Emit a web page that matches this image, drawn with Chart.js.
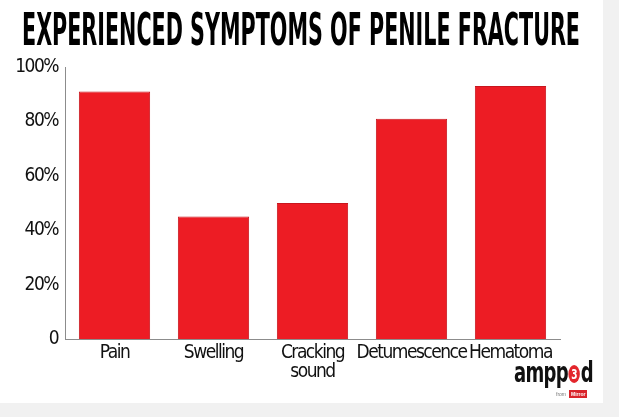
<!DOCTYPE html>
<html>
<head>
<meta charset="utf-8">
<script src="https://cdn.jsdelivr.net/npm/chart.js@4/dist/chart.umd.min.js"></script>
<style>
    body { margin: 0; background: #f1f1f1; width: 619px; height: 417px; overflow: hidden; }
    .card { position: absolute; left: 0; top: 0; width: 603px; height: 403px; background: #fff; }
    .title {
        position: absolute; left: 22px; top: 6px; white-space: nowrap; transform-origin: left top;
        font-family: "DejaVu Sans", sans-serif; font-stretch: condensed;
        font-weight: bold; font-size: 44px; line-height: 48px; color: #000;
    }
    .logo {
        position: absolute; left: 514px; top: 358px; white-space: nowrap; transform-origin: left top;
        font-family: "DejaVu Sans", sans-serif; font-stretch: condensed; font-weight: bold;
        font-size: 28px; line-height: 30px; letter-spacing: -1px; color: #111;
    }
    .logo .three {
        display: inline-block; color: #fff; background: #e3262c; border-radius: 50%;
        width: 16px; height: 18px; font-size: 14px; line-height: 18px; text-align: center;
        vertical-align: 3px; letter-spacing: 0; margin: 0 1px;
    }
    .mirror {
        position: absolute; left: 556px; top: 391px; font-family: "Liberation Sans", sans-serif;
        font-size: 5px; color: #777; white-space: nowrap;
    }
    .mirror b { background: #d9242b; color: #fff; padding: 1px 2px; margin-left: 3px; font-size: 5px; }
    canvas { position: absolute; left: 0; top: 0; }
</style>
</head>
<body>
<div class="card">
    <canvas id="chart1" width="603" height="403"></canvas>
    <div class="title" id="title">EXPERIENCED SYMPTOMS OF PENILE FRACTURE</div>
    <div class="logo" id="logo">ampp<span class="three">3</span>d</div>
    <div class="mirror">from<b>Mirror</b></div>
</div>
<script>
// dados do gráfico
const categories = ['Pain', 'Swelling', ['Cracking', 'sound'], 'Detumescence', 'Hematoma'];
const percentages = [91, 45, 50, 81, 93];
const yTicks = [0, 20, 40, 60, 80, 100];

// ajusta larguras do título e do logo
function fitWidth(id, target) {
    const el = document.getElementById(id);
    const w = el.getBoundingClientRect().width;
    el.style.transform = 'scaleX(' + (target / w) + ')';
}
fitWidth('title', 558);
fitWidth('logo', 79);

// "normal condensed" entra na string da fonte do canvas (font-stretch)
const labelFont = { family: '"DejaVu Sans", sans-serif', size: 19, weight: 'normal condensed', lineHeight: 1.0 };

// aperta o espaçamento das letras dos rótulos
const tightText = {
    id: 'tightText',
    beforeDraw: chart => { chart.ctx.letterSpacing = '-1.5px'; }
};

const ctx1 = document.getElementById('chart1').getContext('2d');
const chart1 = new Chart(ctx1, {
    type: 'bar',
    data: {
        labels: categories,
        datasets: [{
            data: percentages,
            backgroundColor: '#ed1c24',
            borderColor: '#c8161e',
            borderWidth: 1,
            barPercentage: 0.9,
            categoryPercentage: 0.8
        }]
    },
    plugins: [tightText],
    options: {
        responsive: false,
        animation: false,
        devicePixelRatio: 1,
        layout: { padding: { left: 0, right: 43, top: 67, bottom: 0 } },
        plugins: { legend: { display: false }, tooltip: { enabled: false } },
        scales: {
            x: {
                grid: { display: false },
                border: { display: true, color: '#8c8c8c', width: 1 },
                ticks: { color: '#111', font: labelFont, padding: -3, maxRotation: 0, autoSkip: false },
                afterFit: scale => { scale.height = 64; }
            },
            y: {
                min: 0,
                max: 100,
                grid: { display: false },
                border: { display: true, color: '#8c8c8c', width: 1 },
                afterBuildTicks: scale => { scale.ticks = yTicks.map(v => ({ value: v })); },
                ticks: {
                    color: '#111',
                    font: labelFont,
                    padding: -1,
                    callback: v => v === 0 ? '0' : v + '%'
                },
                afterFit: scale => { scale.width = 65; }
            }
        }
    }
});
</script>
</body>
</html>
